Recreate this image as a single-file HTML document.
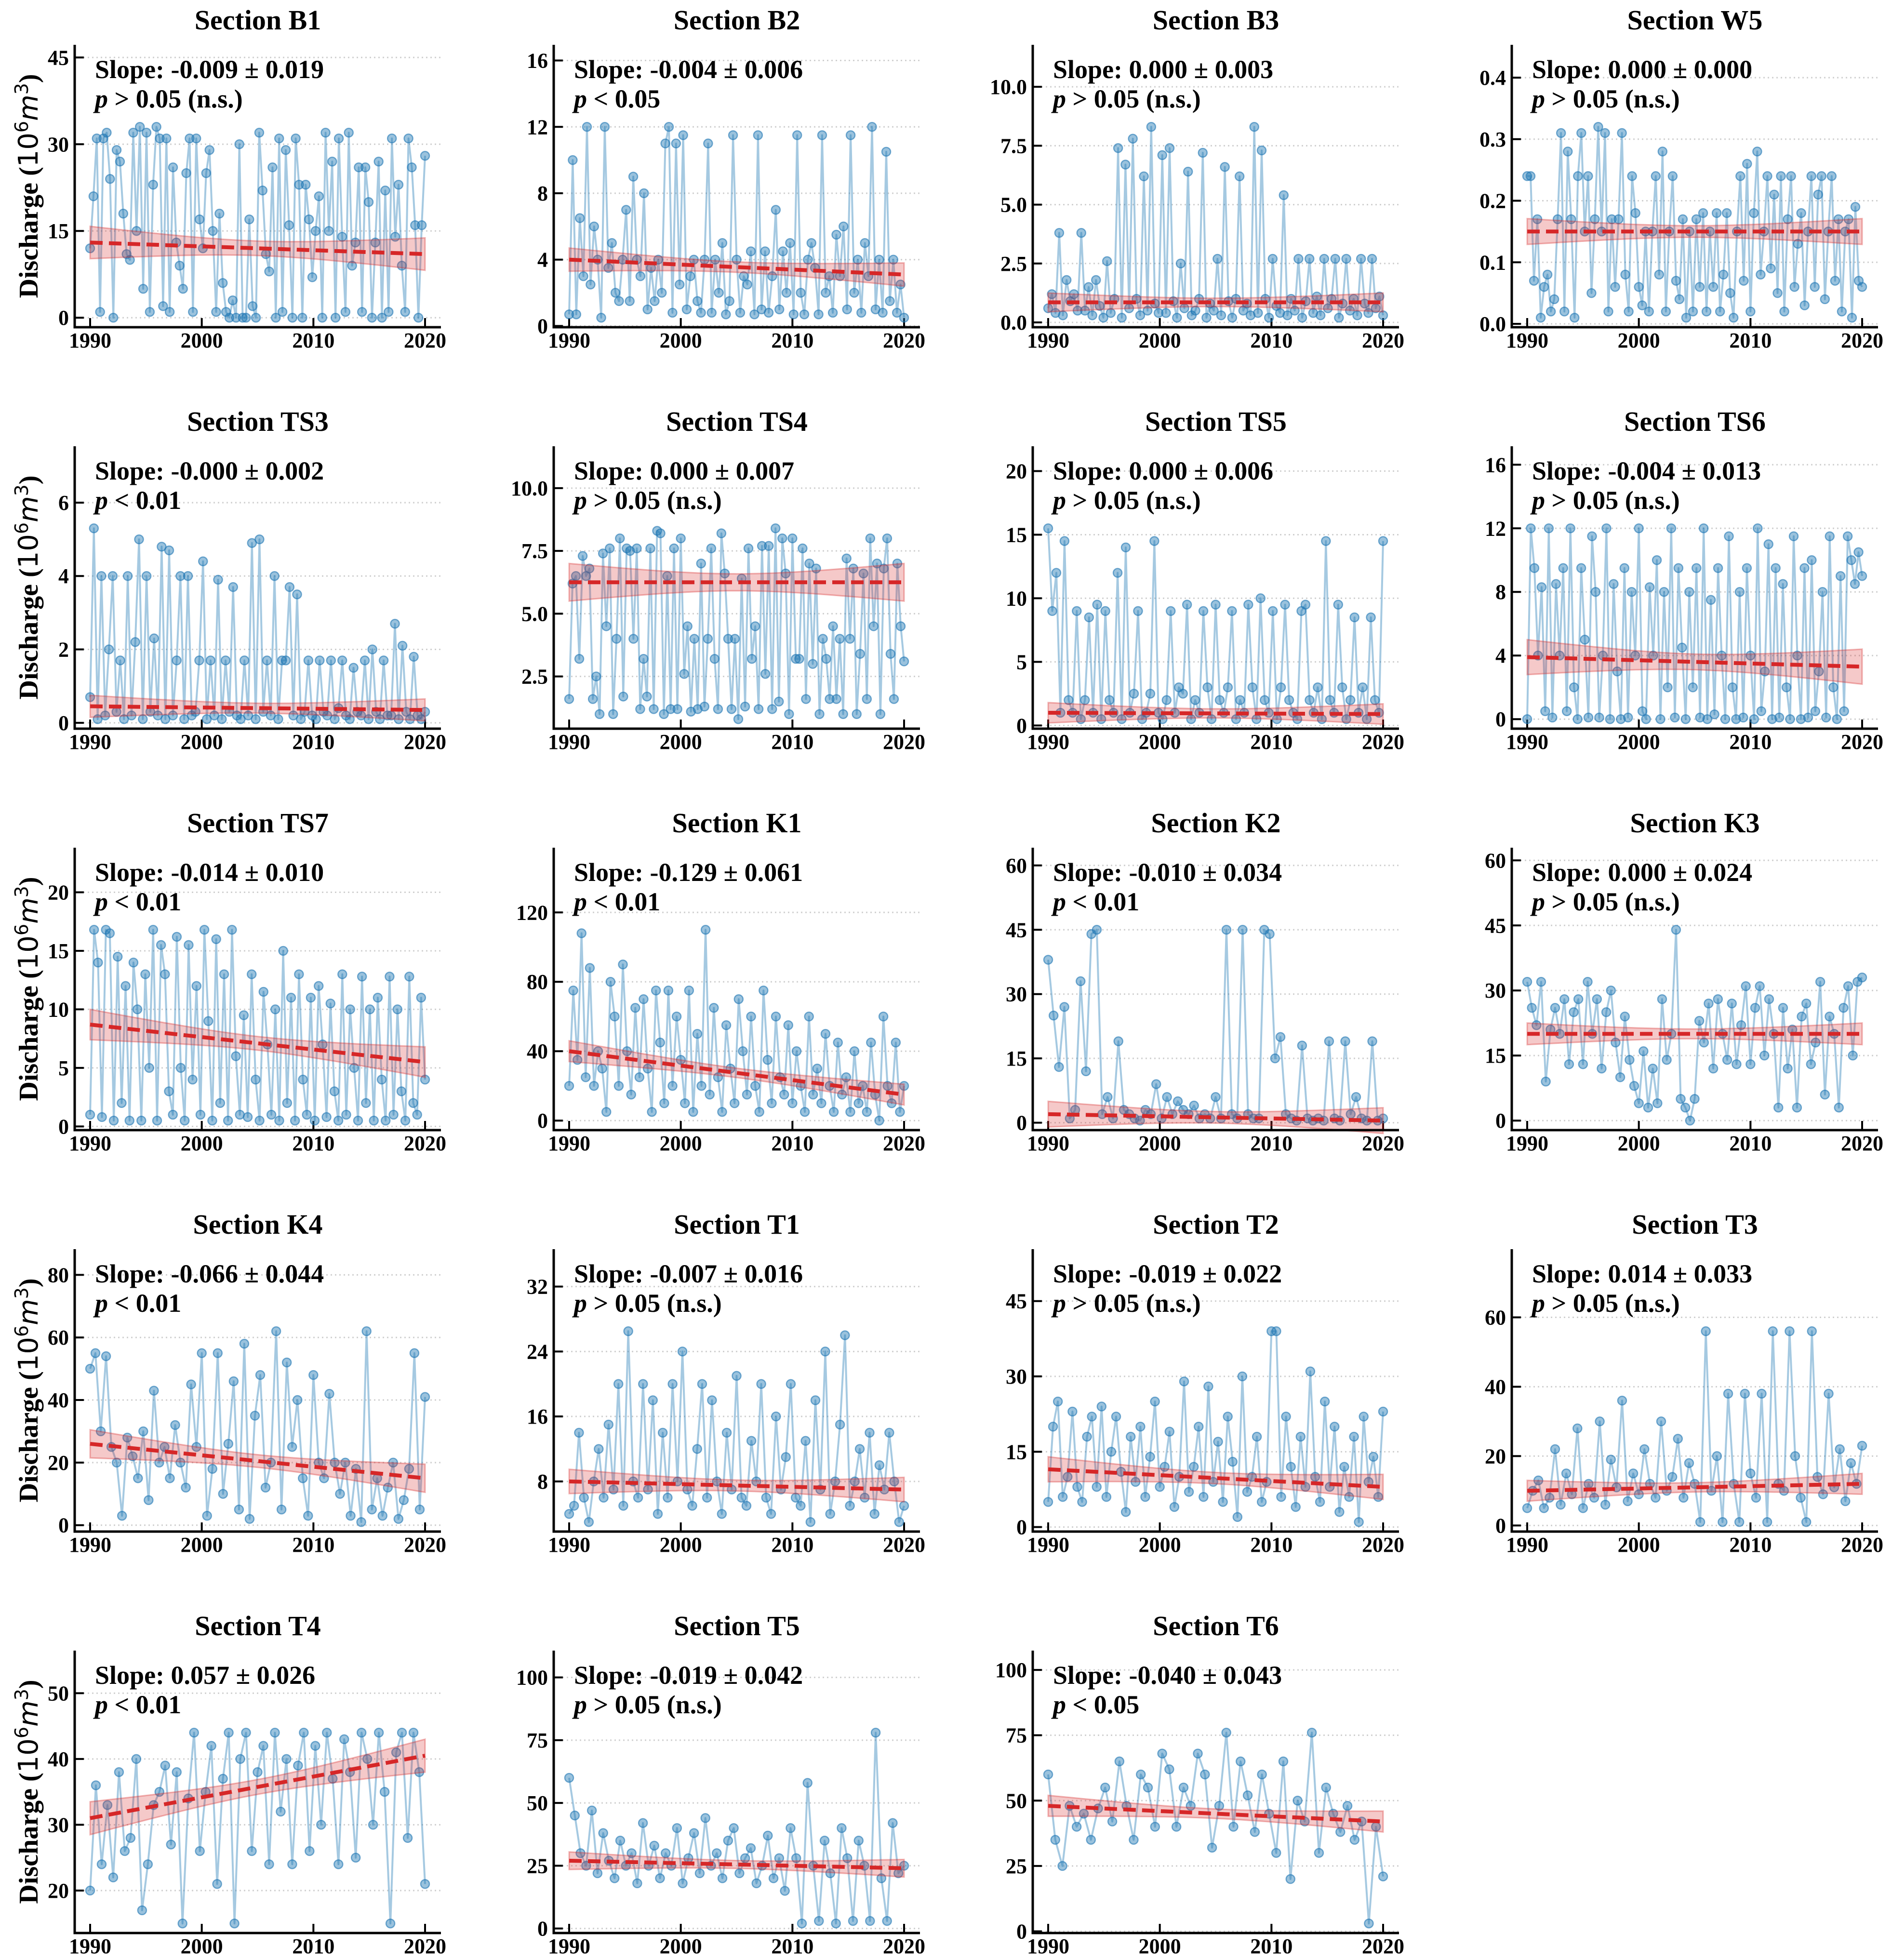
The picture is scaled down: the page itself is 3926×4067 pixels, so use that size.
<!DOCTYPE html>
<html><head><meta charset="utf-8">
<style>
html,body{margin:0;padding:0;background:#fff;}
svg{display:block;}
text{font-family:"Liberation Serif","DejaVu Serif",serif;font-weight:bold;fill:#000;}
</style></head>
<body>
<svg id="chart" xmlns="http://www.w3.org/2000/svg" width="3926" height="4067" viewBox="0 0 3926 4067"></svg>
<script>
const titles = ["Section B1","Section B2","Section B3","Section W5","Section TS3","Section TS4","Section TS5","Section TS6","Section TS7","Section K1","Section K2","Section K3","Section K4","Section T1","Section T2","Section T3","Section T4","Section T5","Section T6"];
const slopeLabels = ["-0.009 ± 0.019","-0.004 ± 0.006","0.000 ± 0.003","0.000 ± 0.000","-0.000 ± 0.002","0.000 ± 0.007","0.000 ± 0.006","-0.004 ± 0.013","-0.014 ± 0.010","-0.129 ± 0.061","-0.010 ± 0.034","0.000 ± 0.024","-0.066 ± 0.044","-0.007 ± 0.016","-0.019 ± 0.022","0.014 ± 0.033","0.057 ± 0.026","-0.019 ± 0.042","-0.040 ± 0.043"];
const pLabels = ["> 0.05 (n.s.)","< 0.05","> 0.05 (n.s.)","> 0.05 (n.s.)","< 0.01","> 0.05 (n.s.)","> 0.05 (n.s.)","> 0.05 (n.s.)","< 0.01","< 0.01","< 0.01","> 0.05 (n.s.)","< 0.01","> 0.05 (n.s.)","> 0.05 (n.s.)","> 0.05 (n.s.)","< 0.01","> 0.05 (n.s.)","< 0.05"];
const yTicks = [[0,15,30,45],[0,4,8,12,16],[0,2.5,5,7.5,10],[0,0.1,0.2,0.3,0.4],[0,2,4,6],[2.5,5,7.5,10],[0,5,10,15,20],[0,4,8,12,16],[0,5,10,15,20],[0,40,80,120],[0,15,30,45,60],[0,15,30,45,60],[0,20,40,60,80],[8,16,24,32],[0,15,30,45],[0,20,40,60],[20,30,40,50],[0,25,50,75,100],[0,25,50,75,100]];
const yTickLabels = [["0","15","30","45"],["0","4","8","12","16"],["0.0","2.5","5.0","7.5","10.0"],["0.0","0.1","0.2","0.3","0.4"],["0","2","4","6"],["2.5","5.0","7.5","10.0"],["0","5","10","15","20"],["0","4","8","12","16"],["0","5","10","15","20"],["0","40","80","120"],["0","15","30","45","60"],["0","15","30","45","60"],["0","20","40","60","80"],["8","16","24","32"],["0","15","30","45"],["0","20","40","60"],["20","30","40","50"],["0","25","50","75","100"],["0","25","50","75","100"]];
const xTicks = [1990,2000,2010,2020];
const trendStart = [13.0,4.0,0.85,0.15,0.45,6.25,1.0,3.9,8.7,40,2,20,26,8,11.5,10,31,27,48];
const trendEnd   = [11.0,3.1,0.85,0.15,0.35,6.25,0.9,3.3,5.5,15,0.5,20,15,7,8,12,40.5,24,42];
const ciHalf     = [2.8,0.7,0.4,0.021,0.3,0.75,0.8,1.1,1.3,6,3,2.5,4.5,1.5,2.5,3,2.5,3.5,4];

const b1Values=[12,21,31,1,31,32,24,0,29,27,18,11,10,32,15,33,5,32,1,23,33,31,2,31,1,26,13,9,5,25,31,1,31,17,12,25,29,15,1,18,6,1,0,3,0,30,0,0,17,2,0,32,22,11,8,26,0,31,1,29,16,0,31,23,0,23,17,7,15,21,0,32,15,27,0,31,14,1,32,9,13,26,1,26,20,0,13,27,0,22,1,31,14,23,9,1,31,26,16,0,16,28];
const b2Values=[0.7,10,0.7,6.5,3,12,2.5,6,4,0.5,12,3.5,5,2,1.5,4,7,1.5,9,4,3,8,1,3.5,1.5,4,2,11,12,0.8,11,2.5,11.5,1,3,4,1.5,0.8,4,11,0.8,4,2,5,0.7,1.5,11.5,4,0.8,3,2.5,4.5,0.7,11.5,1,4.5,0.8,3,7,1,4.5,2,5,0.7,11.5,2,0.7,4,5,3.5,0.7,11.5,2,3,0.8,5.5,3,6,1,11.5,2,4,0.8,5,3,12,1,4,0.8,10.5,1.5,4,0.8,2.5,0.5];
const b3Values=[0.6,1.2,0.4,3.8,0.3,1.8,0.9,1.2,0.5,3.8,0.5,1.5,0.3,1.8,0.7,0.2,2.6,0.4,1,7.4,0.2,6.7,0.6,7.8,1,0.3,6.2,0.5,8.3,0.8,0.4,7.1,0.4,7.4,0.9,0.2,2.5,0.6,6.4,0.3,0.5,1,7.2,0.2,0.8,0.5,2.7,0.3,6.6,0.9,0.2,1,6.2,0.5,0.8,0.3,8.3,0.4,7.3,1,0.2,2.7,0.7,0.4,5.4,0.3,1,0.5,2.7,0.2,0.9,2.7,0.4,1.1,0.3,2.7,0.6,1,2.7,0.2,0.8,2.7,0.5,1,0.3,2.7,0.8,0.4,2.7,0.6,1.1,0.3];
const w5Values=[0.24,0.24,0.07,0.17,0.01,0.06,0.08,0.02,0.04,0.17,0.31,0.02,0.28,0.17,0.01,0.24,0.31,0.15,0.24,0.05,0.17,0.32,0.15,0.31,0.02,0.17,0.06,0.17,0.31,0.08,0.02,0.24,0.18,0.06,0.03,0.15,0.02,0.15,0.24,0.08,0.28,0.02,0.15,0.24,0.07,0.04,0.17,0.01,0.15,0.02,0.17,0.06,0.18,0.02,0.15,0.06,0.18,0.02,0.08,0.18,0.05,0.01,0.15,0.24,0.07,0.26,0.02,0.18,0.28,0.08,0.15,0.24,0.09,0.21,0.05,0.24,0.02,0.17,0.24,0.06,0.13,0.18,0.03,0.15,0.24,0.06,0.21,0.24,0.04,0.15,0.24,0.07,0.17,0.02,0.15,0.17,0.01,0.19,0.07,0.06];
const ts3Values=[0.7,5.3,0.1,4,0.2,2,4,0.3,1.7,0.1,4,0.2,2.2,5,0.1,4,0.3,2.3,0.2,4.8,0.1,4.7,0.2,1.7,4,0.1,4,0.2,0.3,1.7,4.4,0.1,1.7,0.2,3.9,0.1,1.7,0.3,3.7,0.2,0.1,1.7,0.2,4.9,0.1,5,0.3,1.7,0.2,4,0.1,1.7,1.7,3.7,0.2,3.5,0.1,0.3,1.7,0.2,0.1,1.7,0.3,0.2,1.7,0.1,0.4,1.7,0.2,0.1,1.5,0.3,0.2,1.7,0.1,2,0.3,0.1,1.7,0.2,0.2,2.7,0.1,2.1,0.3,0.1,1.8,0.2,0.1,0.3];
const ts4Values=[1.6,6.2,6.5,3.2,7.3,6.5,6.8,1.6,2.5,1,7.4,4.5,7.6,1,4,8,1.7,7.6,7.5,4,7.6,1.2,3.2,1.7,7.6,1.2,8.3,8.2,1,6.5,1.2,7.6,1.2,8,2.6,4.5,1.1,4,1.2,7,1.3,4,7.6,3.2,1.2,8.2,6.6,4,1.2,4,0.8,6.4,1.3,7.6,3.2,4.5,1.2,7.7,2.6,7.7,1.2,8.4,1.5,8,6.6,1,8,3.2,3.2,7.6,1.6,7,3,6.8,1,4,3.2,1.6,4.5,1.6,4,1,7.2,4,6.8,1,3.4,6.6,1.6,8,4.5,7,1,6.8,8,3.4,1.6,7,4.5,3.1];
const ts5Values=[15.5,9,12,1,14.5,2,1,9,0.5,2,8.5,1,9.5,0.5,9,2,1,12,0.5,14,1,2.5,9,0.5,1,2.5,14.5,1,0.5,2,9,1,3,2.5,9.5,0.5,2,1,9,3,0.5,9.5,2,1,3,9,0.5,2,1,9.5,3,0.5,10,2,1,9,0.5,3,9.5,2,1,0.5,9,9.5,2,1,3,0.5,14.5,2,1,9.5,3,0.5,2,8.5,1,3,0.5,8.5,2,1,14.5];
const ts6Values=[0,12,9.5,4,8.3,0.5,12,0.1,8.5,4,9.5,0.5,12,2,0,9.5,5,0.1,11.5,8,0.1,4,12,0,8.5,3,0,9.5,0.1,8,4,12,0.5,0,8.3,4,10,0,8,2,12,0.1,9.5,4.5,0,8,2,9.5,0.1,12,0,7.5,0.3,9.5,4,0,11.5,2,0,8,0.1,9.5,4,0,12,0.5,3,11,0,9.5,0.1,8.5,2,0,11.5,4,0,9.5,0.1,10,0.5,3,8,0.1,11.5,2,0,9,0.5,11.5,10,8.5,10.5,9];
const ts7Values=[1,16.8,14,0.8,16.8,16.5,0.5,14.5,2,12,0.5,14,10,0.5,13,5,16.8,0.5,15.5,13,3,1,16.2,5,0.5,15.5,4,12,1,16.8,9,0.5,16,2,13,0.5,16.8,6,1,9.5,0.8,13,4,0.5,11.5,7,1,10,0.5,15,2,11,0.5,13,4,1,11,0.5,12,7,0.8,10.5,3,0.5,13,1,10,5,0.5,12.8,2,10,0.5,11,4,0.5,12.8,1,10,3,0.5,12.8,2,1,11,4];
const k1Values=[20,75,35,108,25,88,20,40,30,5,80,60,20,90,40,15,65,25,70,30,5,75,45,10,75,20,60,35,10,75,5,50,20,110,15,65,25,5,55,30,10,70,40,15,60,20,5,75,35,10,60,25,15,55,10,40,20,5,60,15,30,10,50,20,5,45,15,25,5,40,10,20,5,45,15,0,60,20,10,45,5,20];
const k2Values=[38,25,13,27,1,3,33,12,44,45,2,6,1,19,3,2,1,0.5,3,2,9,1,6,2,5,3,2,4,1,2,1,6,1,45,2,1,45,2,1,1,45,44,15,20,2,1,0.5,18,1,0.5,1,0.5,19,1,0.5,19,2,6,1,0.5,19,0.5,1];
const k3Values=[32,26,22,32,9,21,26,20,28,13,25,28,13,32,20,28,12,25,30,18,10,24,14,8,4,16,3,12,4,28,14,20,44,5,3,0,5,23,18,27,12,28,20,14,27,13,22,31,13,26,31,15,28,20,3,26,12,21,3,24,27,13,18,32,6,24,20,3,26,31,15,32,33];
const k4Values=[50,55,30,54,25,20,3,28,22,15,30,8,43,20,25,15,32,20,12,45,25,55,3,18,55,10,26,46,5,58,2,35,48,12,20,62,5,52,25,40,15,3,48,20,15,42,20,10,20,3,18,1,62,5,15,3,12,20,2,8,18,55,5,41];
const t1Values=[4,5,14,6,3,8,12,6,15,7,20,5,26.5,8,6,20,7,18,4,14,6,20,8,24,7,5,12,20,6,18,8,4,14,7,21,6,5,13,8,20,6,4,16,7,11,20,6,5,13,3,18,7,24,4,8,15,26,5,8,12,6,14,4,10,7,14,8,3,5];
const t2Values=[5,20,25,6,10,23,8,5,18,22,8,24,6,15,22,11,3,18,9,20,6,14,25,8,12,19,4,10,29,7,12,20,6,28,9,17,5,22,13,2,30,7,10,18,5,9,39,39,6,22,12,4,18,8,31,10,5,25,8,20,3,12,6,18,1,22,9,14,6,23];
const t3Values=[5,10,13,5,8,22,6,15,9,28,5,12,8,30,6,19,11,36,7,15,9,22,12,8,30,10,14,25,8,18,12,1,56,10,20,1,38,12,1,38,15,8,38,1,56,12,10,56,20,8,1,56,14,9,38,11,22,7,18,12,23];
const t4Values=[20,36,24,33,22,38,26,28,40,17,24,33,35,39,27,38,15,34,44,26,35,42,21,37,44,15,40,44,26,38,42,24,44,32,40,24,39,44,26,42,30,44,37,24,43,38,25,44,40,30,44,35,15,41,44,28,44,38,21];
const t5Values=[60,45,30,25,47,22,38,27,20,35,25,30,18,42,25,33,20,30,25,40,18,28,38,22,44,25,30,20,35,40,22,28,32,18,25,37,20,28,15,40,28,2,58,25,3,35,22,2,40,28,3,35,25,3,78,20,3,42,22,25];
const t6Values=[60,35,25,48,40,45,35,47,55,42,65,48,35,60,55,40,68,62,40,55,48,68,60,32,48,76,40,65,52,38,60,45,30,65,20,50,42,76,30,55,45,38,48,35,42,3,40,21];

const seriesValues=[b1Values,b2Values,b3Values,w5Values,ts3Values,ts4Values,ts5Values,ts6Values,ts7Values,k1Values,k2Values,k3Values,k4Values,t1Values,t2Values,t3Values,t4Values,t5Values,t6Values];

const NS="http://www.w3.org/2000/svg";
const svg=document.getElementById('chart');
function mk(tag,attrs,parent){const e=document.createElementNS(NS,tag);for(const k in attrs)e.setAttribute(k,attrs[k]);(parent||svg).appendChild(e);return e;}

seriesValues.forEach((vals,i)=>{
  const col=i%4,row=Math.floor(i/4);
  const ax0=155+994*col, axTop=93+833*row, axBot=679+833*row, axRight=ax0+760;
  const g=mk('g',{});
  
  
  const mn=Math.min(...vals), mx=Math.max(...vals), R=(mx-mn)||1;
  const lo=mn-0.05*R, hi=mx+0.43*R;
  const xS=yr=>ax0+32+(yr-1990)/30*695;
  const yS=v=>axBot-(v-lo)/(hi-lo)*(axBot-axTop);
  const n=vals.length;
  const yearOf=k=>1990+30*k/(n-1);

  yTicks[i].forEach((t,j)=>{
    const y=yS(t);
    const gl=mk('line',{x1:ax0,x2:axRight,y1:y,y2:y,stroke:'#d0d0d0','stroke-width':3,'stroke-dasharray':'3 6'},g);
    
    
    const tk=mk('line',{x1:ax0,x2:ax0+19,y1:y,y2:y,stroke:'#000','stroke-width':4},g);
    
    
    const tl=mk('text',{x:ax0-12,y:y+15,'text-anchor':'end','font-size':44},g);
    tl.textContent=yTickLabels[i][j];
    
    
  });
  xTicks.forEach(yr=>{
    const x=xS(yr);
    const tk=mk('line',{x1:x,x2:x,y1:axBot,y2:axBot-19,stroke:'#000','stroke-width':4},g);
    
    
    const tl=mk('text',{x:x,y:axBot+42,'text-anchor':'middle','font-size':44},g);
    tl.textContent=String(yr);
    
    
  });
  let d='';
  vals.forEach((v,k)=>{d+=(k?'L':'M')+xS(yearOf(k)).toFixed(1)+' '+yS(v).toFixed(1);});
  const pl=mk('path',{d:d,fill:'none',stroke:'rgba(31,119,180,0.4)','stroke-width':4,'stroke-linejoin':'round'},g);
  
  
  vals.forEach((v,k)=>{
    const c=mk('circle',{cx:xS(yearOf(k)),cy:yS(v),r:9,fill:'rgba(31,119,180,0.45)',stroke:'rgba(31,119,180,0.6)','stroke-width':2.5},g);
    
    
  });
  const tr=f=>trendStart[i]+(trendEnd[i]-trendStart[i])*f;
  const ci=f=>{const m=0.45*ciHalf[i];return Math.sqrt(m*m+(ciHalf[i]*ciHalf[i]-m*m)*Math.pow((f-0.5)/0.5,2));};
  let up='',dn='';const N=40;
  for(let s=0;s<=N;s++){const f=s/N;up+=(s?'L':'M')+xS(1990+30*f).toFixed(1)+' '+yS(tr(f)+ci(f)).toFixed(1);}
  for(let s=N;s>=0;s--){const f=s/N;dn+='L'+xS(1990+30*f).toFixed(1)+' '+yS(tr(f)-ci(f)).toFixed(1);}
  const band=mk('path',{d:up+dn+'Z',fill:'rgba(214,39,40,0.25)',stroke:'rgba(214,39,40,0.35)','stroke-width':3},g);
  
  
  const tl=mk('line',{x1:xS(1990),y1:yS(tr(0)),x2:xS(2020),y2:yS(tr(1)),stroke:'#d62728','stroke-width':8,'stroke-dasharray':'26 13'},g);
  
  
  const sp=mk('path',{d:`M${ax0} ${axTop} L${ax0} ${axBot} L${axRight} ${axBot}`,fill:'none',stroke:'#000','stroke-width':5},g);
  
  
  const tt=mk('text',{x:ax0+380,y:axTop-32,'text-anchor':'middle','font-size':58},g);
  tt.textContent=titles[i];
  
  
  const s1=mk('text',{x:ax0+42,y:axTop+69,'font-size':54},g);
  s1.textContent='Slope: '+slopeLabels[i];
  
  
  const s2=mk('text',{x:ax0+42,y:axTop+130,'font-size':54},g);
  
  
  const pi=mk('tspan',{'font-style':'italic'},s2);pi.textContent='p';
  const pr=mk('tspan',{},s2);pr.textContent=' '+pLabels[i];
  if(col===0){
    const cy=(axTop+axBot)/2;
    const yl=mk('text',{x:58,y:cy,'text-anchor':'middle','font-size':56,transform:`rotate(-90 58 ${cy})`,dy:20},g);
    
    
    const a=mk('tspan',{},yl);a.textContent='Discharge (';
    const b=mk('tspan',{'font-family':'DejaVu Sans, sans-serif','font-weight':'normal'},yl);b.textContent='10';
    const c=mk('tspan',{'font-family':'DejaVu Sans, sans-serif','font-weight':'normal','font-size':38,dy:-20},yl);c.textContent='6';
    const m=mk('tspan',{'font-family':'DejaVu Sans, sans-serif','font-weight':'normal','font-style':'italic',dy:20},yl);m.textContent='m';
    const e=mk('tspan',{'font-family':'DejaVu Sans, sans-serif','font-weight':'normal','font-size':38,dy:-20},yl);e.textContent='3';
    const f=mk('tspan',{dy:20},yl);f.textContent=')';
  }
});
</script>
</body></html>
